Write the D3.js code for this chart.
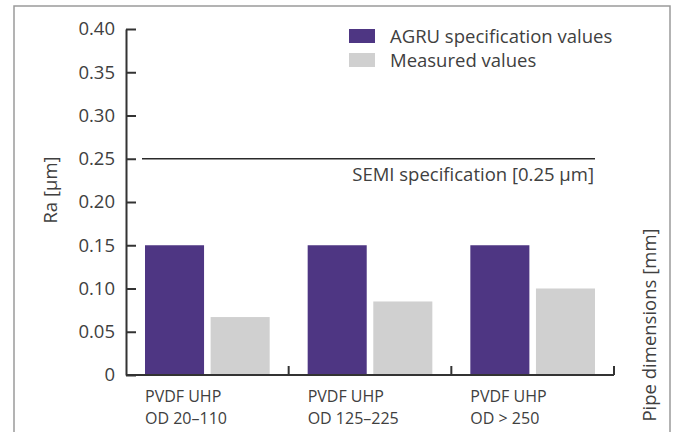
<!DOCTYPE html>
<html lang="en">
<head>
    <meta charset="UTF-8">
    <title>Surface roughness Ra</title>
    <script src="https://d3js.org/d3.v7.min.js"></script>
    <style>
        body { margin: 0; background: #fff; }
        svg text { font-family: 'Open Sans', sans-serif; fill: #404040; }
    </style>
</head>
<body>
    <div id="chart"></div>
    <script>
        // data
        const categories = ["PVDF UHP|OD 20\u2013110", "PVDF UHP|OD 125\u2013225", "PVDF UHP|OD > 250"];
        const seriesNames = ["AGRU specification values", "Measured values"];
        const agruValues = [0.15, 0.15, 0.15];
        const measuredValues = [0.067, 0.085, 0.10];
        const yTicks = [0, 0.05, 0.10, 0.15, 0.20, 0.25, 0.30, 0.35, 0.40];
        const semiLimit = 0.25;
        const colors = ["#4e3683", "#d0d0d0"];

        const width = 682, height = 432;
        const bigFont = 18.5, smallFont = 16;
        const svg = d3.select("#chart").append("svg")
            .attr("width", width)
            .attr("height", height);

        // outer frame
        svg.append("rect")
            .attr("x", 14).attr("y", 6)
            .attr("width", 656).attr("height", 440)
            .attr("fill", "none")
            .attr("stroke", "#9a9a9a")
            .attr("stroke-width", 1.5);

        const y = d3.scaleLinear().domain([0, 0.4]).range([375, 29]);
        const x = d3.scaleBand().domain(categories).range([126, 614]);
        const inner = d3.scaleBand().domain(seriesNames)
            .range([19, x.bandwidth() - 19])
            .paddingInner(0.1);

        const rows = categories.map((c, i) => ({ cat: c, vals: [agruValues[i], measuredValues[i]] }));

        // bars
        const groups = svg.selectAll("g.cat")
            .data(rows)
            .join("g")
            .attr("class", "cat")
            .attr("transform", d => `translate(${x(d.cat)},0)`);

        groups.selectAll("rect")
            .data(d => d.vals.map((v, j) => ({ key: seriesNames[j], v, j })))
            .join("rect")
            .attr("x", d => inner(d.key))
            .attr("width", inner.bandwidth())
            .attr("y", d => y(d.v))
            .attr("height", d => y(0) - y(d.v) + 1)
            .attr("fill", d => colors[d.j]);

        // y axis, ticks pointing inward
        const yAxis = svg.append("g")
            .attr("transform", `translate(${x.range()[0]},0)`)
            .call(d3.axisLeft(y)
                .tickValues(yTicks)
                .tickSizeInner(-10)
                .tickSizeOuter(0)
                .tickPadding(11)
                .tickFormat(d => d === 0 ? "0" : d3.format(".2f")(d)));
        yAxis.select(".domain").attr("stroke", "#333").attr("stroke-width", 2);
        yAxis.selectAll(".tick line").attr("stroke", "#333").attr("stroke-width", 2);
        yAxis.selectAll(".tick text")
            .attr("font-size", bigFont)
            .attr("fill", "#404040")
            .attr("font-family", "'Open Sans', sans-serif");

        // x axis: baseline with upward ticks at category boundaries
        const xAxis = svg.append("g");
        xAxis.append("line")
            .attr("x1", x.range()[0]).attr("x2", x.range()[1])
            .attr("y1", y(0)).attr("y2", y(0))
            .attr("stroke", "#333").attr("stroke-width", 2);
        xAxis.selectAll("line.tick")
            .data(categories)
            .join("line")
            .attr("class", "tick")
            .attr("x1", d => x(d) + x.bandwidth()).attr("x2", d => x(d) + x.bandwidth())
            .attr("y1", y(0)).attr("y2", y(0) - 9)
            .attr("stroke", "#333").attr("stroke-width", 2);

        // category labels, two lines
        const labels = svg.selectAll("text.cat-label")
            .data(categories)
            .join("text")
            .attr("class", "cat-label")
            .attr("x", d => x(d) + inner(seriesNames[0]))
            .attr("y", 402)
            .attr("font-size", smallFont);
        labels.selectAll("tspan")
            .data(d => d.split("|"))
            .join("tspan")
            .attr("x", function () { return d3.select(this.parentNode).attr("x"); })
            .attr("dy", (d, i) => i === 0 ? 0 : 22)
            .text(d => d);

        // SEMI specification line
        const lastCat = categories[categories.length - 1];
        const semiEnd = x(lastCat) + inner(seriesNames[1]) + inner.bandwidth();
        svg.append("line")
            .attr("x1", x.range()[0] + 16).attr("x2", semiEnd)
            .attr("y1", y(semiLimit)).attr("y2", y(semiLimit))
            .attr("stroke", "#2a2a2a").attr("stroke-width", 1.5);
        svg.append("text")
            .attr("x", semiEnd - 1)
            .attr("y", y(semiLimit) + 22)
            .attr("text-anchor", "end")
            .attr("font-size", bigFont)
            .text("SEMI specification [" + semiLimit + " \u00b5m]");

        // legend
        const legend = svg.append("g").attr("transform", "translate(349,29)");
        const item = legend.selectAll("g")
            .data(seriesNames)
            .join("g")
            .attr("transform", (d, i) => `translate(0,${i * 24})`);
        item.append("rect")
            .attr("width", 26).attr("height", 14)
            .attr("fill", (d, i) => colors[i]);
        item.append("text")
            .attr("x", 41).attr("y", 14)
            .attr("font-size", bigFont)
            .text(d => d);

        // axis titles
        svg.append("text")
            .attr("transform", "translate(57,190) rotate(-90)")
            .attr("text-anchor", "middle")
            .attr("font-size", bigFont)
            .text("Ra [\u00b5m]");
        svg.append("text")
            .attr("transform", "translate(656,325) rotate(-90)")
            .attr("text-anchor", "middle")
            .attr("font-size", bigFont)
            .text("Pipe dimensions [mm]");
    </script>
</body>
</html>
